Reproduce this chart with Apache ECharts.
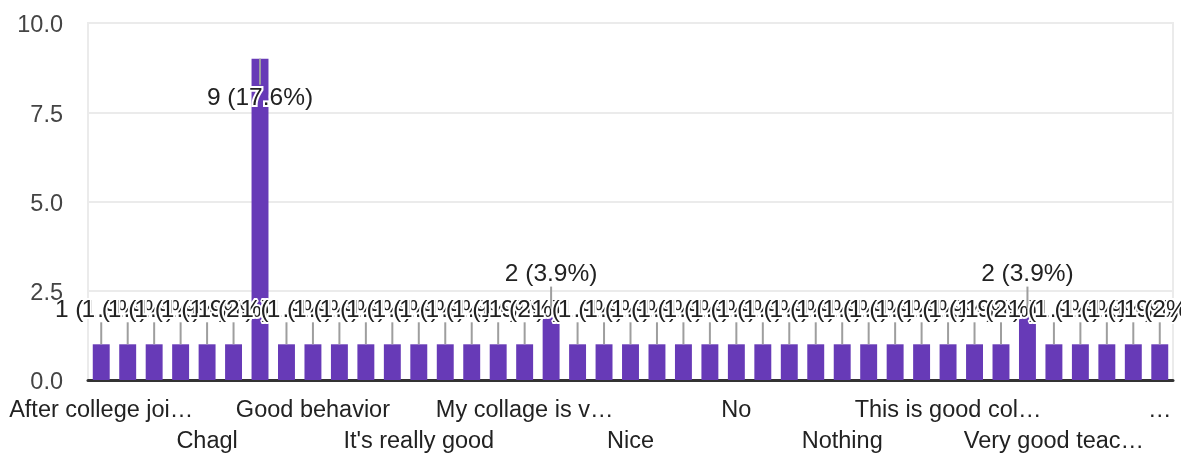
<!DOCTYPE html>
<html>
<head>
<meta charset="utf-8">
<script src="https://cdn.jsdelivr.net/npm/echarts@6/dist/echarts.min.js"></script>
<style>
html,body{margin:0;padding:0;background:#fff;}
#chart{width:1181px;height:454px;}
</style>
</head>
<body>
<div id="chart"></div>
<script>
// Categories (alphabetical, as in the response chart; only every 4th label is shown)
const categories = [
  "After college joi…", "All good", "Average", "Best college",
  "Chagl", "Excellent", "Good", "Good and better",
  "Good behavior", "Good college", "Good teachers", "It's good",
  "It's really good", "Its good", "Kuch nahi", "My collage is good",
  "My collage is v…", "My college is good", "Na", "Nc",
  "Nice", "Nice college", "Nice teachers", "Nil",
  "No", "No comment", "No problem", "None",
  "Nothing", "Ok", "Really good", "Super",
  "This is good col…", "Too good", "Very best", "Very good",
  "Very good teac…", "Very nice", "Wonderful", "Yes",
  "…"
];
// Response counts
const counts = [
  1, 1, 1, 1,
  1, 1, 9, 1,
  1, 1, 1, 1,
  1, 1, 1, 1,
  1, 2, 1, 1,
  1, 1, 1, 1,
  1, 1, 1, 1,
  1, 1, 1, 1,
  1, 1, 1, 2,
  1, 1, 1, 1,
  1
];
// Percent shown in each label (as rounded in the original chart)
const percents = [
  1.9, 1.9, 1.9, 1.9,
  1.9, 2, 17.6, 1.9,
  1.9, 1.9, 1.9, 1.9,
  1.9, 1.9, 1.9, 1.9,
  2, 3.9, 1.9, 1.9,
  1.9, 1.9, 1.9, 1.9,
  1.9, 1.9, 1.9, 1.9,
  1.9, 1.9, 1.9, 1.9,
  1.9, 1.9, 2, 3.9,
  1.9, 1.9, 1.9, 1.9,
  2
];
// Y axis ticks
const yMin = 0, yMax = 10, yStep = 2.5;

const labels = counts.map((c, i) => c + ' (' + percents[i] + '%)');
const GRID_TOP = 23;
const FONT = '"Liberation Sans", Arial, sans-serif';

function xLabelStyle(extra) {
  return Object.assign({
    margin: 19,
    color: '#222',
    fontFamily: FONT,
    fontSize: 23.5,
    hideOverlap: false,
    showMinLabel: true,
    showMaxLabel: true
  }, extra);
}

const chart = echarts.init(document.getElementById('chart'), null, {renderer: 'canvas'});
chart.setOption({
  animation: false,
  grid: {
    left: 88, right: 8, top: GRID_TOP, bottom: 73,
    show: true, borderColor: '#ebebeb', borderWidth: 2, backgroundColor: 'transparent'
  },
  xAxis: [
    {
      type: 'category',
      data: categories,
      position: 'bottom',
      boundaryGap: true,
      axisTick: {show: false},
      axisLine: {show: true, lineStyle: {color: '#333', width: 3}},
      axisLabel: xLabelStyle({interval: (idx) => idx % 8 === 0}),
      splitLine: {show: false}
    },
    {
      type: 'category',
      data: categories,
      position: 'bottom',
      offset: 31,
      boundaryGap: true,
      axisTick: {show: false},
      axisLine: {show: false},
      axisLabel: xLabelStyle({interval: (idx) => idx % 8 === 4}),
      splitLine: {show: false}
    }
  ],
  yAxis: {
    type: 'value',
    min: yMin, max: yMax, interval: yStep,
    axisLine: {show: false},
    axisTick: {show: false},
    axisLabel: {
      margin: 25,
      color: '#444',
      fontFamily: FONT,
      fontSize: 23.5,
      formatter: v => '{t|' + v.toFixed(1) + '}',
      rich: {
        t: {
          color: '#444',
          fontFamily: FONT,
          fontSize: 23.5,
          padding: [6, 0, 0, 0]
        }
      }
    },
    splitLine: {show: true, lineStyle: {color: '#ebebeb', width: 2}}
  },
  series: [
    {
      type: 'bar',
      xAxisIndex: 0,
      data: counts,
      barWidth: '64%',
      itemStyle: {color: '#673ab7'},
      z: 2
    },
    {
      type: 'custom',
      xAxisIndex: 0,
      clip: false,
      z: 5,
      data: counts.map((c, i) => [i, c]),
      encode: {x: 0, y: 1},
      renderItem: function (params, api) {
        const i = api.value(0);
        const v = api.value(1);
        const p = api.coord([i, v]);
        const x = p[0], y = p[1];
        const inside = (y - 45) < GRID_TOP;
        const dir = inside ? 1 : -1;
        const lineLen = inside ? 26 : 22;
        const textOff = inside ? 40 : 34;
        return {
          type: 'group',
          children: [
            {
              type: 'line',
              shape: {x1: x, y1: y, x2: x, y2: y + dir * lineLen},
              style: {stroke: '#9e9e9e', lineWidth: 2}
            },
            {
              type: 'text',
              x: x,
              y: y + dir * textOff,
              style: {
                text: labels[i],
                fill: '#222',
                font: '24.5px ' + FONT,
                align: 'center',
                verticalAlign: 'middle',
                stroke: '#fff',
                lineWidth: 4
              }
            }
          ]
        };
      }
    }
  ]
});
</script>
</body>
</html>
